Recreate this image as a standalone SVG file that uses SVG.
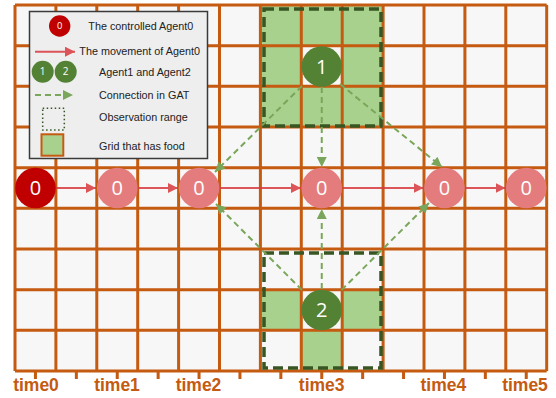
<svg xmlns="http://www.w3.org/2000/svg" width="556" height="398" viewBox="0 0 556 398">
<defs>
<style>
.grid{stroke:#C55A11;stroke-width:3;fill:none}
.food{fill:#A9D18E}
.obs{fill:none;stroke:#375623;stroke-width:3.5;stroke-dasharray:10 5}
.mv{stroke:#D8393E;stroke-width:2;opacity:0.85}
.gat{stroke:#79A65A;stroke-width:2;stroke-dasharray:6 4;fill:none}
.a0{fill:#C00000}
.a0l{fill:#E47C7E}
.ag{fill:#548235}
.lbl{font-family:"Open Sans","Liberation Sans",sans-serif;fill:#fff;text-anchor:middle}
.leg{font-family:"Liberation Sans",Arial,sans-serif;font-size:10.8px;fill:#222}
.time{font-family:"Liberation Sans",Arial,sans-serif;font-weight:bold;font-size:17.5px;fill:#C55A11;text-anchor:middle}
</style>
<marker id="ar" viewBox="0 0 10 10" refX="10" refY="5" markerWidth="5" markerHeight="5" markerUnits="strokeWidth" orient="auto">
<path d="M0,0 L10,5 L0,10 Z" fill="#D8393E"/>
</marker>
<marker id="ag" viewBox="0 0 10 10" refX="10" refY="5" markerWidth="6.5" markerHeight="5" markerUnits="strokeWidth" orient="auto">
<path d="M0,0 L10,5 L0,10 Z" fill="#79A65A"/>
</marker>
</defs>
<rect width="556" height="398" fill="#fff"/>
<g id="grid">
<rect x="15" y="5" width="531.7" height="366" fill="#F7F7F7"/>
<path class="food" d="M260.4,5 H383.1 V127 H260.4 Z M301.3,45.67 V86.33 H342.2 V45.67 Z" fill-rule="evenodd"/>
<rect class="food" x="260.4" y="289.67" width="40.9" height="40.66"/>
<rect class="food" x="342.2" y="289.67" width="40.9" height="40.66"/>
<rect class="food" x="301.3" y="330.33" width="40.9" height="40.67"/>
<path class="grid" d="M15,5 V371 M55.9,5 V371 M96.8,5 V371 M137.7,5 V371 M178.6,5 V371 M219.5,5 V371 M260.4,5 V371 M301.3,5 V371 M342.2,5 V371 M383.1,5 V371 M424,5 V371 M464.9,5 V371 M505.8,5 V371 M546.7,5 V371
M15,5 H546.7 M15,45.67 H546.7 M15,86.33 H546.7 M15,127 H546.7 M15,167.67 H546.7 M15,208.33 H546.7 M15,249 H546.7 M15,289.67 H546.7 M15,330.33 H546.7 M15,371 H546.7
M35.45,371 V379 M76.35,371 V379 M117.25,371 V379 M158.15,371 V379 M199.05,371 V379 M239.95,371 V379 M280.85,371 V379 M321.75,371 V379 M362.65,371 V379 M403.55,371 V379 M444.45,371 V379 M485.35,371 V379 M526.25,371 V379"/>
</g>
<g id="observation">
<rect class="obs" x="264" y="9" width="117" height="117"/>
<rect class="obs" x="264" y="253" width="117" height="115"/>
</g>
<g id="connectors">
<line class="mv" x1="56" y1="188" x2="96" y2="188" marker-end="url(#ar)"/>
<line class="mv" x1="137.5" y1="188" x2="178" y2="188" marker-end="url(#ar)"/>
<line class="mv" x1="219.5" y1="188" x2="301" y2="188" marker-end="url(#ar)"/>
<line class="mv" x1="342.5" y1="188" x2="423.5" y2="188" marker-end="url(#ar)"/>
<line class="mv" x1="465" y1="188" x2="505.5" y2="188" marker-end="url(#ar)"/>
<line class="gat" x1="302" y1="86" x2="215" y2="172" marker-end="url(#ag)"/>
<line class="gat" x1="321.75" y1="87" x2="321.75" y2="167" marker-end="url(#ag)"/>
<line class="gat" x1="340" y1="84" x2="442" y2="167" marker-end="url(#ag)"/>
<line class="gat" x1="302" y1="290" x2="216" y2="204" marker-end="url(#ag)"/>
<line class="gat" x1="321.75" y1="289" x2="321.75" y2="209" marker-end="url(#ag)"/>
<line class="gat" x1="341.5" y1="290" x2="429" y2="203" marker-end="url(#ag)"/>
</g>
<g id="agent0-t0"><circle class="a0" cx="35.45" cy="188" r="20.3"/><text class="lbl" x="35.45" y="195" font-size="20">0</text></g>
<g id="agent0-t1"><circle class="a0l" cx="117.25" cy="188" r="20.3"/><text class="lbl" x="117.25" y="195" font-size="20">0</text></g>
<g id="agent0-t2"><circle class="a0l" cx="199.05" cy="188" r="20.3"/><text class="lbl" x="199.05" y="195" font-size="20">0</text></g>
<g id="agent0-t3"><circle class="a0l" cx="321.75" cy="188" r="20.3"/><text class="lbl" x="321.75" y="195" font-size="20">0</text></g>
<g id="agent0-t4"><circle class="a0l" cx="444.45" cy="188" r="20.3"/><text class="lbl" x="444.45" y="195" font-size="20">0</text></g>
<g id="agent0-t5"><circle class="a0l" cx="526.25" cy="188" r="20.3"/><text class="lbl" x="526.25" y="195" font-size="20">0</text></g>
<g id="agent1"><circle class="ag" cx="321.75" cy="66.5" r="20.3"/><text class="lbl" x="321.75" y="73.5" font-size="20">1</text></g>
<g id="agent2"><circle class="ag" cx="321.75" cy="310" r="20.3"/><text class="lbl" x="321.75" y="317" font-size="20">2</text></g>
<g id="legend">
<rect x="29.5" y="11.5" width="178" height="147" fill="#EEEEEE" stroke="#3A3A3A" stroke-width="1.5"/>
<circle class="a0" cx="59.7" cy="26" r="10.7"/><text class="lbl" x="59.7" y="29.3" font-size="9.5">0</text>
<text class="leg" x="88.3" y="29.5">The controlled Agent0</text>
<line class="mv" x1="35" y1="51.7" x2="75" y2="51.7" marker-end="url(#ar)"/>
<text class="leg" x="79.3" y="55">The movement of Agent0</text>
<circle class="ag" cx="42.7" cy="71.7" r="11"/><text class="lbl" x="42.7" y="75.2" font-size="10">1</text>
<circle class="ag" cx="65.7" cy="71.7" r="11"/><text class="lbl" x="65.7" y="75.2" font-size="10">2</text>
<text class="leg" x="99" y="75.5">Agent1 and Agent2</text>
<line class="gat" x1="35" y1="95" x2="73" y2="95" marker-end="url(#ag)"/>
<text class="leg" x="99" y="98.5">Connection in GAT</text>
<rect x="42.7" y="108.3" width="21.6" height="21.7" fill="none" stroke="#375623" stroke-width="1.5" stroke-dasharray="1.5 2.5"/>
<text class="leg" x="99" y="121">Observation range</text>
<rect x="41.5" y="134.3" width="21.8" height="21.4" fill="#A9D18E" stroke="#C55A11" stroke-width="2"/>
<text class="leg" x="99" y="149.5">Grid that has food</text>
</g>
<g id="time-labels">
<text class="time" x="36" y="391">time0</text>
<text class="time" x="117" y="391">time1</text>
<text class="time" x="198.5" y="391">time2</text>
<text class="time" x="321.7" y="391">time3</text>
<text class="time" x="443.3" y="391">time4</text>
<text class="time" x="525" y="391">time5</text>
</g>
</svg>
